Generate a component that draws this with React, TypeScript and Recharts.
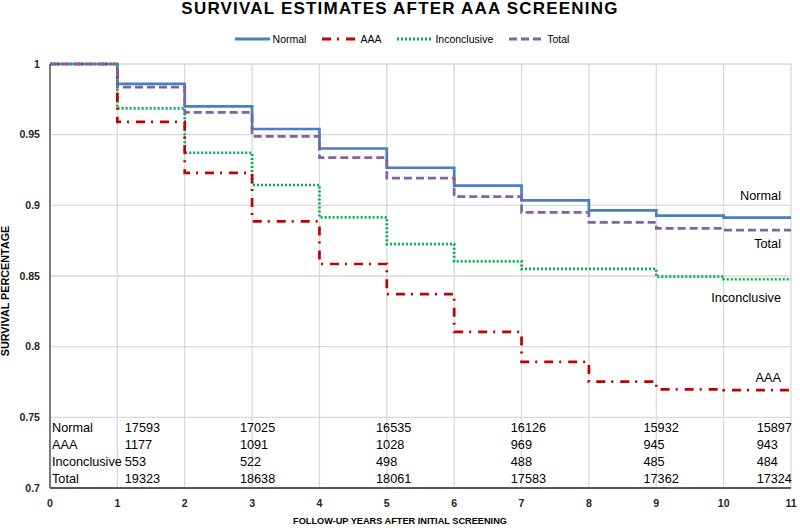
import {
  ComposedChart,
  Line,
  XAxis,
  YAxis,
  CartesianGrid,
  ReferenceDot,
} from "recharts";

// follow-up year, and the survival estimate held from that year to the next
const years = [0, 1, 2, 3, 4, 5, 6, 7, 8, 9, 10, 11];
const normal = [1, 0.986, 0.97, 0.954, 0.9402, 0.9266, 0.914, 0.9035, 0.8965, 0.8927, 0.8913, 0.8913];
const aaa = [1, 0.959, 0.9229, 0.8887, 0.8585, 0.8372, 0.8105, 0.7893, 0.7752, 0.7698, 0.7693, 0.7693];
const inconclusive = [1, 0.9686, 0.9372, 0.9144, 0.8915, 0.8726, 0.8604, 0.855, 0.855, 0.8495, 0.8477, 0.8477];
const total = [1, 0.9837, 0.9658, 0.9488, 0.9337, 0.9193, 0.9061, 0.895, 0.888, 0.8837, 0.8825, 0.8825];

const yTicks = [0.7, 0.75, 0.8, 0.85, 0.9, 0.95, 1];

// numbers at risk
const tableRows = ["Normal", "AAA", "Inconclusive", "Total"];
const normalAtRisk = [17593, 17025, 16535, 16126, 15932, 15897];
const aaaAtRisk = [1177, 1091, 1028, 969, 945, 943];
const inconclusiveAtRisk = [553, 522, 498, 488, 485, 484];
const totalAtRisk = [19323, 18638, 18061, 17583, 17362, 17324];

const FONT = "'Liberation Sans', Arial, sans-serif";
const BLUE = "#4a7dc1";
const RED = "#c00000";
const GREEN = "#00b050";
const PURPLE = "#8064a2";

const data = years.map((year, i) => ({
  year,
  normal: normal[i],
  aaa: aaa[i],
  inconclusive: inconclusive[i],
  total: total[i],
}));

const series = [
  { key: "normal", name: "Normal", color: BLUE, dash: undefined, dy: -22 },
  { key: "inconclusive", name: "Inconclusive", color: GREEN, dash: "2 2", dy: 18.5 },
  { key: "aaa", name: "AAA", color: RED, dash: "9 6 2 7", dy: -12.5 },
  { key: "total", name: "Total", color: PURPLE, dash: "8 4", dy: 14 },
];
const legendOrder = ["normal", "aaa", "inconclusive", "total"];

// table layout (x in years, y in survival units)
const colX = [1.11, 2.82, 4.84, 6.84, 8.81, 10.49];
const rowY = [0.7422, 0.7302, 0.7181, 0.7062];
const atRisk = [normalAtRisk, aaaAtRisk, inconclusiveAtRisk, totalAtRisk];

const textShape = (text: string) => (props: any) => (
  <text
    x={props.cx}
    y={props.cy}
    dominantBaseline="central"
    fontSize={12.7}
    fontFamily={FONT}
    fill="#000"
  >
    {text}
  </text>
);

const endLabel = (name: string, dy: number) => (props: any) => {
  if (props.index !== years.length - 1) return null;
  return (
    <text
      key={name}
      x={props.x - 10}
      y={props.y + dy}
      textAnchor="end"
      dominantBaseline="central"
      fontSize={12.7}
      fontFamily={FONT}
      fill="#000"
    >
      {name}
    </text>
  );
};

const Legend = () => (
  <div
    style={{
      position: "absolute",
      top: 31,
      left: 0,
      width: 820,
      display: "flex",
      justifyContent: "center",
      fontFamily: FONT,
      fontSize: 10.5,
      color: "#000",
    }}
  >
    {legendOrder.map((k) => {
      const s = series.find((x) => x.key === k)!;
      return (
        <div key={k} style={{ display: "flex", alignItems: "center", marginRight: 16 }}>
          <svg width={35} height={16}>
            <line x1={0} y1={8} x2={35} y2={8} stroke={s.color} strokeWidth={3} strokeDasharray={s.dash} />
          </svg>
          <span style={{ marginLeft: 3 }}>{s.name}</span>
        </div>
      );
    })}
  </div>
);

export default function App() {
  return (
    <div style={{ position: "absolute", left: 0, top: 0, width: 800, height: 528, background: "#fff" }}>
      <div
        style={{
          position: "absolute",
          top: 0,
          left: 0,
          width: 800,
          textAlign: "center",
          fontFamily: FONT,
          fontWeight: "bold",
          fontSize: 17,
          letterSpacing: 1.2,
          lineHeight: "18px",
          color: "#000",
        }}
      >
        SURVIVAL ESTIMATES AFTER AAA SCREENING
      </div>
      <Legend />
      <ComposedChart
        width={800}
        height={528}
        data={data}
        margin={{ top: 64, right: 9, bottom: 10, left: 0 }}
      >
        <CartesianGrid stroke="#d9d9d9" strokeWidth={1.3} />
        <XAxis
          dataKey="year"
          type="number"
          domain={[0, 11]}
          ticks={years}
          height={30}
          tickLine={false}
          tickSize={0}
          tickMargin={11}
          axisLine={{ stroke: "#595959", strokeWidth: 2 }}
          tick={{ fontSize: 10.6, fontWeight: "bold", fill: "#262626", fontFamily: FONT }}
        />
        <YAxis
          type="number"
          domain={[0.7, 1]}
          ticks={yTicks}
          width={50}
          tickLine={false}
          tickSize={0}
          tickMargin={10}
          axisLine={{ stroke: "#595959", strokeWidth: 1.5 }}
          tick={{ fontSize: 10.6, fontWeight: "bold", fill: "#262626", fontFamily: FONT }}
        />
        {series.map((s) => (
          <Line
            key={s.key}
            dataKey={s.key}
            name={s.name}
            type="stepAfter"
            stroke={s.color}
            strokeWidth={2.7}
            strokeDasharray={s.dash}
            dot={false}
            activeDot={false}
            isAnimationActive={false}
            label={endLabel(s.name, s.dy)}
          />
        ))}
        {tableRows.map((row, r) => (
          <ReferenceDot
            key={"row" + row}
            x={0.03}
            y={rowY[r]}
            r={0}
            shape={textShape(row)}
          />
        ))}
        {atRisk.map((vals, r) =>
          vals.map((v, c) => (
            <ReferenceDot
              key={"cell" + r + "-" + c}
              x={colX[c]}
              y={rowY[r]}
              r={0}
              shape={textShape(String(v))}
            />
          ))
        )}
      </ComposedChart>
      <div
        style={{
          position: "absolute",
          left: 5,
          top: 291,
          transform: "translate(-50%, -50%) rotate(-90deg)",
          transformOrigin: "center",
          whiteSpace: "nowrap",
          fontFamily: FONT,
          fontWeight: "bold",
          fontSize: 10.8,
          color: "#000",
        }}
      >
        SURVIVAL PERCENTAGE
      </div>
      <div
        style={{
          position: "absolute",
          left: 0,
          top: 515,
          width: 800,
          textAlign: "center",
          fontFamily: FONT,
          fontWeight: "bold",
          fontSize: 9.2,
          lineHeight: "12px",
          color: "#000",
        }}
      >
        FOLLOW-UP YEARS AFTER INITIAL SCREENING
      </div>
    </div>
  );
}
